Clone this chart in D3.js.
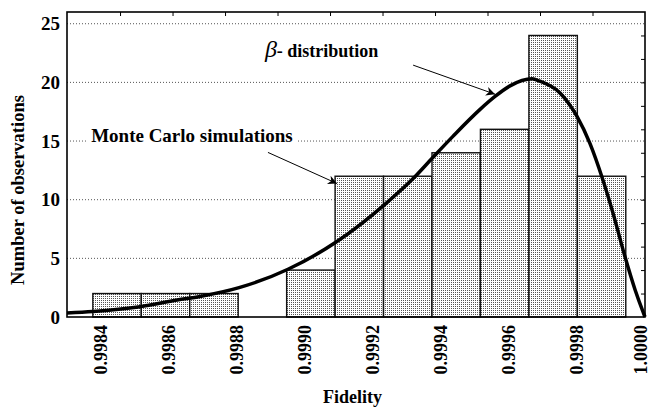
<!DOCTYPE html>
<html>
<head>
<meta charset="utf-8">
<script src="https://cdn.jsdelivr.net/npm/d3@7"></script>
<style>
  body { margin: 0; background: #fff; }
  text { font-family: "Liberation Serif", "Times New Roman", serif; font-weight: bold; }
</style>
</head>
<body>
<div class="chart"></div>
<script>
var svgWidth = 652;
var svgHeight = 407;

var margin = {
  top: 12,
  right: 7,
  bottom: 90,
  left: 67
};

var width = svgWidth - margin.left - margin.right;
var height = svgHeight - margin.top - margin.bottom;

// histogram bins (left edges + last right edge) and counts
var binEdges = [0.998376, 0.9985185, 0.998661, 0.9988035, 0.998946, 0.9990885,
  0.999231, 0.9993735, 0.999516, 0.9996585, 0.999801, 0.9999435];
var counts = [2, 2, 2, 0, 4, 12, 12, 14, 16, 24, 12];

// fitted beta curve
var curveX = [0.99830, 0.998376, 0.998515, 0.998624, 0.998691, 0.998806, 0.998950,
  0.999094, 0.999235, 0.999318, 0.999376, 0.999435, 0.999515, 0.999559, 0.999603,
  0.999668, 0.999691, 0.999750, 0.999800, 0.999838, 0.999876, 0.999906, 0.999941,
  0.999971, 0.999994, 1.0000];
var curveY = [0.35, 0.47, 0.88, 1.45, 1.75, 2.5, 4.07,
  6.43, 9.6, 11.8, 13.6, 15.4, 17.7, 18.8, 19.7,
  20.3, 20.1, 19.1, 17.1, 14.8, 11.7, 8.85, 5.15,
  2.3, 0.45, 0];

var xTicks = [0.9984, 0.9986, 0.9988, 0.9990, 0.9992, 0.9994, 0.9996, 0.9998, 1.0000];
var yTicks = [0, 5, 10, 15, 20, 25];

var svg = d3
  .select(".chart")
  .append("svg")
  .attr("width", svgWidth)
  .attr("height", svgHeight);

var defs = svg.append("defs");
var pat = defs.append("pattern")
  .attr("id", "dots")
  .attr("width", 2)
  .attr("height", 2)
  .attr("patternUnits", "userSpaceOnUse");
pat.append("rect").attr("width", 2).attr("height", 2).attr("fill", "#fff");
pat.append("rect").attr("width", 1).attr("height", 1).attr("fill", "#555");

var arrow = defs.append("marker")
  .attr("id", "arrow")
  .attr("viewBox", "0 0 10 10")
  .attr("refX", 10)
  .attr("refY", 5)
  .attr("markerWidth", 13)
  .attr("markerHeight", 9)
  .attr("markerUnits", "userSpaceOnUse")
  .attr("orient", "auto");
arrow.append("path").attr("d", "M0,0 L10,5 L0,10 L3,5 Z").attr("fill", "#000");

var chartGroup = svg.append("g")
  .attr("transform", `translate(${margin.left}, ${margin.top})`);

var xScale = d3.scaleLinear()
  .domain([0.9983, 1.0000])
  .range([0, width]);

var yScale = d3.scaleLinear()
  .domain([0, 26])
  .range([height, 0]);

// dotted grid
chartGroup.selectAll(".grid")
  .data(yTicks.filter(d => d > 0))
  .enter()
  .append("line")
  .attr("x1", 0)
  .attr("x2", width)
  .attr("y1", d => yScale(d))
  .attr("y2", d => yScale(d))
  .attr("stroke", "#555")
  .attr("stroke-width", 1)
  .attr("stroke-dasharray", "1,2");

// bars
chartGroup.selectAll(".bar")
  .data(counts)
  .enter()
  .append("rect")
  .attr("x", (d, i) => xScale(binEdges[i]))
  .attr("width", (d, i) => xScale(binEdges[i + 1]) - xScale(binEdges[i]))
  .attr("y", d => yScale(d))
  .attr("height", d => height - yScale(d))
  .attr("fill", "url(#dots)")
  .attr("stroke", "#111")
  .attr("stroke-width", 1.4);

// beta curve
var line = d3.line()
  .x(d => xScale(d[0]))
  .y(d => yScale(d[1]))
  .curve(d3.curveMonotoneX);

chartGroup.append("path")
  .datum(curveX.map((v, i) => [v, curveY[i]]))
  .attr("d", line)
  .attr("fill", "none")
  .attr("stroke", "#000")
  .attr("stroke-width", 3.5);

// frame
chartGroup.append("rect")
  .attr("width", width)
  .attr("height", height)
  .attr("fill", "none")
  .attr("stroke", "#000")
  .attr("stroke-width", 1.6);

// minor inside ticks on top and right
var topAxis = d3.axisTop(xScale)
  .tickValues(d3.range(0.998456, 0.99995, 0.0001544))
  .tickSize(-4)
  .tickFormat("");
chartGroup.append("g").call(topAxis).select(".domain").remove();

var rightAxis = d3.axisRight(yScale)
  .tickValues(d3.range(2, 26, 2))
  .tickSize(-4)
  .tickFormat("");
chartGroup.append("g")
  .attr("transform", `translate(${width}, 0)`)
  .call(rightAxis)
  .select(".domain").remove();

// x axis, rotated labels
var bottomAxis = d3.axisBottom(xScale)
  .tickValues(xTicks)
  .tickSize(0)
  .tickFormat(d3.format(".4f"));
var xAxis = chartGroup.append("g")
  .attr("transform", `translate(0, ${height})`)
  .call(bottomAxis);
xAxis.select(".domain").remove();
xAxis.selectAll("text")
  .attr("transform", "rotate(-90)")
  .attr("text-anchor", "end")
  .attr("x", -8)
  .attr("y", 0)
  .attr("dy", (d, i) => i === xTicks.length - 1 ? "0.1em" : "0.3em")
  .attr("font-size", 18)
  .attr("fill", "#000");

// y axis
var leftAxis = d3.axisLeft(yScale)
  .tickValues(yTicks)
  .tickSize(0)
  .tickPadding(7);
var yAxis = chartGroup.append("g").call(leftAxis);
yAxis.select(".domain").remove();
yAxis.selectAll("text")
  .attr("font-size", 19)
  .attr("fill", "#000");

// axis titles
svg.append("text")
  .attr("x", margin.left + xScale(0.99914))
  .attr("y", 403)
  .attr("text-anchor", "middle")
  .attr("font-size", 18)
  .text("Fidelity");

svg.append("text")
  .attr("transform", "rotate(-90)")
  .attr("x", -190)
  .attr("y", 24)
  .attr("text-anchor", "middle")
  .attr("font-size", 18.5)
  .text("Number of observations");

// annotations
var mcLabel = chartGroup.append("text")
  .attr("x", xScale(0.998371))
  .attr("y", yScale(15) + 1)
  .attr("font-size", 19)
  .text("Monte Carlo simulations");
var bb = mcLabel.node().getBBox();
chartGroup.insert("rect", () => mcLabel.node())
  .attr("x", bb.x - 5)
  .attr("y", bb.y)
  .attr("width", bb.width + 10)
  .attr("height", bb.height)
  .attr("fill", "#fff");

chartGroup.append("line")
  .attr("x1", xScale(0.998891))
  .attr("y1", yScale(14.03))
  .attr("x2", xScale(0.999094))
  .attr("y2", yScale(11.38))
  .attr("stroke", "#000")
  .attr("stroke-width", 1)
  .attr("marker-end", "url(#arrow)");

var betaLabel = chartGroup.append("text")
  .attr("x", xScale(0.998882))
  .attr("y", yScale(22.15));
betaLabel.append("tspan")
  .attr("font-size", 24)
  .attr("font-style", "italic")
  .attr("font-weight", "normal")
  .text("β");
betaLabel.append("tspan")
  .attr("font-size", 18)
  .text("- distribution");

chartGroup.append("line")
  .attr("x1", xScale(0.999318))
  .attr("y1", yScale(21.47))
  .attr("x2", xScale(0.999559))
  .attr("y2", yScale(18.99))
  .attr("stroke", "#000")
  .attr("stroke-width", 1)
  .attr("marker-end", "url(#arrow)");
</script>
</body>
</html>
